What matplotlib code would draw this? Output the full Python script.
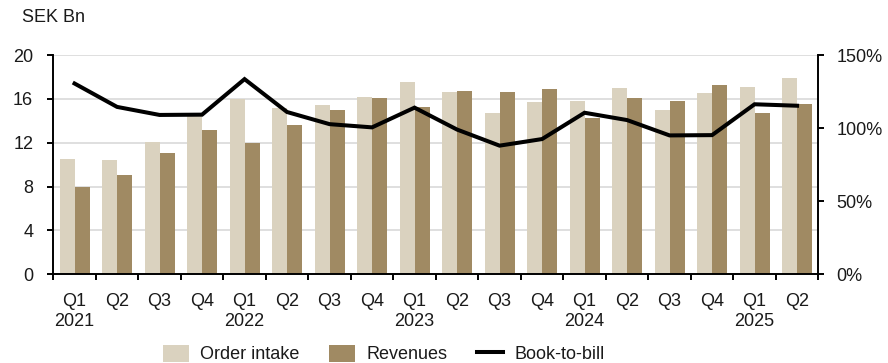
import matplotlib
import matplotlib.pyplot as plt
import numpy as np
from matplotlib.ticker import FuncFormatter

matplotlib.use('Agg')

quarters = ["Q1", "Q2", "Q3", "Q4"] * 4 + ["Q1", "Q2"]
years = ["2021", "2022", "2023", "2024", "2025"]
order_intake = [10.5, 10.4, 12.1, 14.5, 16.0, 15.2, 15.4, 16.2, 17.5, 16.6,
                14.7, 15.7, 15.8, 17.0, 15.0, 16.5, 17.1, 17.9]
revenues = [8.0, 9.1, 11.1, 13.2, 12.0, 13.6, 15.0, 16.1, 15.3, 16.7,
            16.6, 16.9, 14.3, 16.1, 15.8, 17.3, 14.7, 15.5]
book_to_bill = [130.5, 114.5, 109.0, 109.2, 133.5, 111.0, 102.7, 100.5, 114.0, 99.0,
                88.0, 92.5, 110.5, 105.5, 95.0, 95.2, 116.3, 115.3]

light = "#DAD2BF"
dark = "#A08A63"
fs = 13

plt.rcParams['font.family'] = ['Liberation Sans', 'DejaVu Sans']
plt.rcParams['text.color'] = '#1a1a1a'

fig = plt.figure(figsize=(8.88, 3.63), dpi=100)
ax = fig.add_axes([53.3 / 888, 1 - 274.3 / 363, 765 / 888, 219.3 / 363])

x = np.arange(len(quarters))
width = 0.353
ax.bar(x - width / 2, order_intake, width, color=light, label="Order intake", zorder=2)
ax.bar(x + width / 2, revenues, width, color=dark, label="Revenues", zorder=2)

ax.set_xlim(-0.5, len(quarters) - 0.5)
ax.set_ylim(0, 20)
ax.set_yticks(np.arange(0, 21, 4))
ax.grid(axis='y', color="#D6D6D6", linewidth=1.1, zorder=0)
ax.set_axisbelow(True)

# x labels: quarter, with year under each Q1
labels = []
for i, q in enumerate(quarters):
    if q == "Q1":
        labels.append(q + "\n" + years[i // 4])
    else:
        labels.append(q)
ax.set_xticks(x)
ax.set_xticklabels(labels, fontsize=fs, linespacing=1.2, color='#1a1a1a')
ax.set_xticks(np.arange(-0.5, len(quarters)), minor=True)
ax.tick_params(axis='x', which='major', length=0, pad=13.5)
ax.tick_params(axis='x', which='minor', length=4, width=1.4, color='black')
ax.tick_params(axis='y', labelsize=fs, length=4, width=1.4, pad=10.5, labelcolor='#1a1a1a')

for s in ['top', 'right']:
    ax.spines[s].set_visible(False)
ax.spines['left'].set_linewidth(1.4)
ax.spines['bottom'].set_linewidth(1.4)

ax2 = ax.twinx()
line, = ax2.plot(x, book_to_bill, color='black', linewidth=2.9, label="Book-to-bill",
                 solid_joinstyle='miter', zorder=3)
ax2.set_ylim(0, 150)
ax2.set_yticks([0, 50, 100, 150])
ax2.yaxis.set_major_formatter(FuncFormatter(lambda v, p: f"{v:.0f}%"))
ax2.tick_params(axis='y', labelsize=fs, length=4, width=1.4, pad=9, labelcolor='#1a1a1a')
for s in ['top', 'left', 'bottom']:
    ax2.spines[s].set_visible(False)
ax2.spines['right'].set_linewidth(1.4)

fig.text(22 / 888, 1 - 17 / 363, "SEK Bn", fontsize=fs, va='center', ha='left')

handles1, labels1 = ax.get_legend_handles_labels()
fig.legend(handles1 + [line], labels1 + ["Book-to-bill"], loc='center',
           bbox_to_anchor=(0.432, 1 - 354 / 363), ncol=3, frameon=False,
           prop={'size': fs}, borderpad=0,
           handlelength=1.45, handleheight=1.1, columnspacing=1.6, handletextpad=0.65)

fig.savefig('out.png', dpi=100)
